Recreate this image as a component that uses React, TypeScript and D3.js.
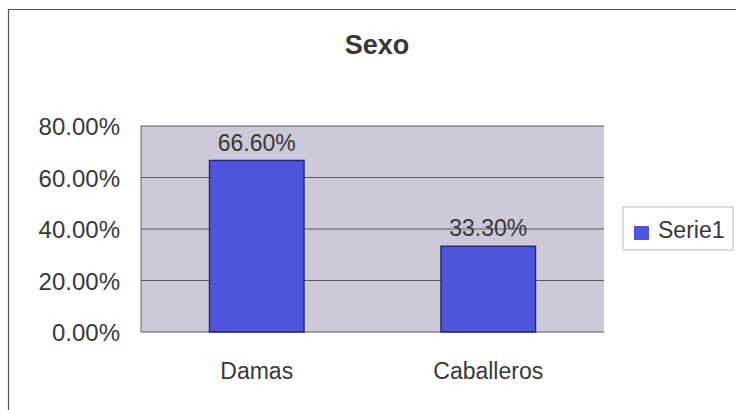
import React from "react";
import * as d3 from "d3";

const categories = ["Damas", "Caballeros"];
const values = [0.666, 0.333];
const valueLabels = ["66.60%", "33.30%"];
const yTicks = [0, 0.2, 0.4, 0.6, 0.8];
const seriesName = "Serie1";
const title = "Sexo";

export default function App() {
  const W = 736, H = 410;
  const plot = { left: 141, right: 604, top: 126, bottom: 332 };
  const x = d3.scaleBand<string>().domain(categories).range([plot.left, plot.right]);
  const y = d3.scaleLinear().domain([0, 0.8]).range([plot.bottom, plot.top]);
  const barW = x.bandwidth() / 2.45;
  const fmt = (v: number) => d3.format(".2f")(v * 100) + "%";
  const font = "Liberation Sans, Arial, sans-serif";
  const tc = "#383838";
  return (
    <svg width={W} height={H} style={{ position: "absolute", left: 0, top: 0 }}>
      <rect x={0} y={0} width={W} height={H} fill="#ffffff" />
      <line x1={8.5} y1={9} x2={8.5} y2={H} stroke="#555" strokeWidth={1.2} />
      <line x1={8} y1={9.5} x2={W} y2={9.5} stroke="#555" strokeWidth={1.2} />
      <text x={377} y={54} textAnchor="middle" fontFamily={font} fontWeight="bold" fontSize={27} fill={tc}>
        {title}
      </text>
      <rect x={plot.left} y={plot.top} width={plot.right - plot.left} height={plot.bottom - plot.top} fill="#cdc9d9" />
      {yTicks.map((t) => (
        <g key={t}>
          <line x1={plot.left} x2={plot.right} y1={y(t)} y2={y(t)} stroke="#5a5a64" strokeWidth={1} />
          <text x={120} y={y(t) + 9} textAnchor="end" fontFamily={font} fontSize={24} fill={tc}>
            {fmt(t)}
          </text>
        </g>
      ))}
      <line x1={plot.left} x2={plot.left} y1={plot.top} y2={plot.bottom} stroke="#666" strokeWidth={1} />
      {categories.map((c, i) => {
        const cx = (x(c) as number) + x.bandwidth() / 2;
        return (
          <g key={c}>
            <rect x={cx - barW / 2} y={y(values[i])} width={barW} height={plot.bottom - y(values[i])} fill="#4f55dc" stroke="#25296e" strokeWidth={1.5} />
            <text x={cx} y={y(values[i]) - 10} textAnchor="middle" fontFamily={font} fontSize={23} fill={tc}>
              {valueLabels[i]}
            </text>
            <text x={cx} y={379} textAnchor="middle" fontFamily={font} fontSize={23} fill={tc}>
              {c}
            </text>
          </g>
        );
      })}
      <rect x={623} y={207} width={110} height={43} fill="#fff" stroke="#bbb" strokeWidth={1} />
      <rect x={634} y={226} width={15} height={14} fill="#4f55dc" />
      <text x={658} y={238} fontFamily={font} fontSize={23} fill={tc}>
        {seriesName}
      </text>
    </svg>
  );
}
